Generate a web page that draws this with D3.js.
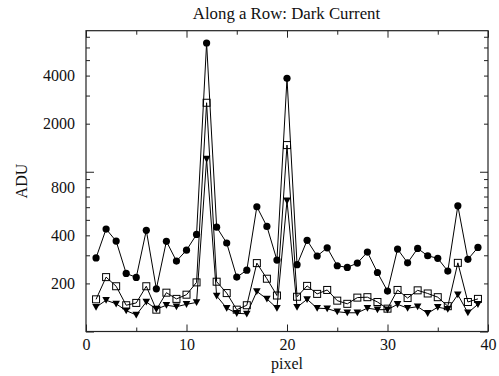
<!DOCTYPE html>
<html>
<head>
<meta charset="utf-8">
<script src="https://cdn.jsdelivr.net/npm/d3@7"></script>
<style>
  html, body { margin: 0; padding: 0; background: #fff; }
  svg { display: block; }
  svg text { font-family: "Liberation Serif", "Times New Roman", Times, serif !important; fill: #111; }
</style>
</head>
<body>
<svg id="chart" width="499" height="376"></svg>
<script>
const pixels = d3.range(1, 40);
const seriesCircle = [289, 438, 368, 231, 218, 430, 185, 367, 276, 323, 405, 6397, 450, 358, 219, 242, 604, 455, 280, 3845,
  262, 372, 297, 334, 258, 252, 268, 314, 234, 179, 328, 269, 331, 298, 287, 239, 612, 283, 336];
const seriesSquare = [159, 219, 192, 146, 151, 192, 137, 175, 160, 170, 203, 2704, 205, 174, 137, 146, 268, 214, 168, 1469,
  165, 193, 172, 182, 156, 149, 163, 164, 153, 139, 182, 162, 181, 173, 164, 144, 269, 153, 160];
const seriesTriangle = [142, 157, 149, 135, 127, 153, 138, 146, 143, 148, 152, 1201, 167, 140, 130, 129, 178, 160, 140, 658,
  142, 159, 140, 139, 133, 131, 131, 140, 137, 137, 148, 140, 143, 130, 142, 138, 170, 131, 148];
const xDomain = [0, 40];
const yDomain = [100, 7640];
const xMajorTicks = [0, 10, 20, 30, 40];
const xMinorTicks = [5, 15, 25, 35];
const yMajorTicks = [100, 1000];
const yMinorTicks = [200, 300, 400, 500, 600, 700, 800, 900, 2000, 3000, 4000, 5000, 6000, 7000];
const yTickLabels = [200, 400, 800, 2000, 4000];
const titleText = "Along a Row: Dark Current";
const xLabel = "pixel";
const yLabel = "ADU";

const svg = d3.select("#chart");
const L = 86, R = 488, T = 30.7, B = 331.5;
const x = d3.scaleLinear().domain(xDomain).range([L, R]);
const y = d3.scaleLog().domain(yDomain).range([B, T]);

const axisColor = "#222";
const fontFam = "'Liberation Serif', 'Times New Roman', Times, serif";
function styleAxis(g) {
  g.attr("font-family", fontFam);
  g.select(".domain").remove();
  g.selectAll(".tick line").attr("stroke", axisColor).attr("stroke-width", 1);
}

// Bottom axis: labelled major ticks, inward
svg.append("g").attr("transform", `translate(0,${B})`)
  .call(d3.axisBottom(x).tickValues(xMajorTicks).tickSize(-7).tickFormat(d3.format("d")))
  .call(styleAxis)
  .call(g => g.selectAll("text").attr("font-size", 16).attr("dy", "0.71em").attr("y", 7));
svg.append("g").attr("transform", `translate(0,${B})`)
  .call(d3.axisBottom(x).tickValues(xMinorTicks).tickSize(-4).tickFormat(""))
  .call(styleAxis);
// Top axis mirrored
svg.append("g").attr("transform", `translate(0,${T})`)
  .call(d3.axisTop(x).tickValues(xMajorTicks).tickSize(-7).tickFormat(""))
  .call(styleAxis);
svg.append("g").attr("transform", `translate(0,${T})`)
  .call(d3.axisTop(x).tickValues(xMinorTicks).tickSize(-4).tickFormat(""))
  .call(styleAxis);

// Left axis
svg.append("g").attr("transform", `translate(${L},0)`)
  .call(d3.axisLeft(y).tickValues(yMajorTicks).tickSize(-8).tickFormat(""))
  .call(styleAxis);
svg.append("g").attr("transform", `translate(${L},0)`)
  .call(d3.axisLeft(y).tickValues(yMinorTicks).tickSize(-4)
    .tickFormat(d => yTickLabels.includes(d) ? String(d) : ""))
  .call(styleAxis)
  .call(g => g.selectAll("text").attr("font-size", 16).attr("x", -11));
// Right axis mirrored
svg.append("g").attr("transform", `translate(${R},0)`)
  .call(d3.axisRight(y).tickValues(yMajorTicks).tickSize(-8).tickFormat(""))
  .call(styleAxis);
svg.append("g").attr("transform", `translate(${R},0)`)
  .call(d3.axisRight(y).tickValues(yMinorTicks).tickSize(-4).tickFormat(""))
  .call(styleAxis);

// Frame
svg.append("rect").attr("x", L).attr("y", T).attr("width", R - L).attr("height", B - T)
  .attr("fill", "none").attr("stroke", axisColor).attr("stroke-width", 1.2);

// Lines
const line = d3.line().x((d, i) => x(pixels[i])).y(d => y(d));
[seriesCircle, seriesSquare, seriesTriangle].forEach(s => {
  svg.append("path").datum(s).attr("d", line)
    .attr("fill", "none").attr("stroke", "#000").attr("stroke-width", 1);
});

// Markers
svg.append("g").selectAll("circle").data(seriesCircle).join("circle")
  .attr("cx", (d, i) => x(pixels[i])).attr("cy", d => y(d)).attr("r", 3.6).attr("fill", "#000");

const sq = svg.append("g").selectAll("g").data(seriesSquare).join("g")
  .attr("transform", (d, i) => `translate(${x(pixels[i])},${y(d)})`);
sq.append("rect").attr("x", -3.5).attr("y", -3.5).attr("width", 7).attr("height", 7)
  .attr("fill", "none").attr("stroke", "#000").attr("stroke-width", 1);

svg.append("g").selectAll("path").data(seriesTriangle).join("path")
  .attr("transform", (d, i) => `translate(${x(pixels[i])},${y(d)})`)
  .attr("d", "M-3.8,-3.2L3.8,-3.2L0,3.6Z").attr("fill", "#000");

// Titles
svg.append("text").attr("x", 286.5).attr("y", 19).attr("text-anchor", "middle")
  .attr("font-size", 16.8).text(titleText);
svg.append("text").attr("x", (L + R) / 2).attr("y", 369).attr("text-anchor", "middle")
  .attr("font-size", 16).text(xLabel);
svg.append("text").attr("transform", `translate(27,${(T + B) / 2}) rotate(-90)`)
  .attr("text-anchor", "middle").attr("font-size", 16).text(yLabel);
</script>
</body>
</html>
